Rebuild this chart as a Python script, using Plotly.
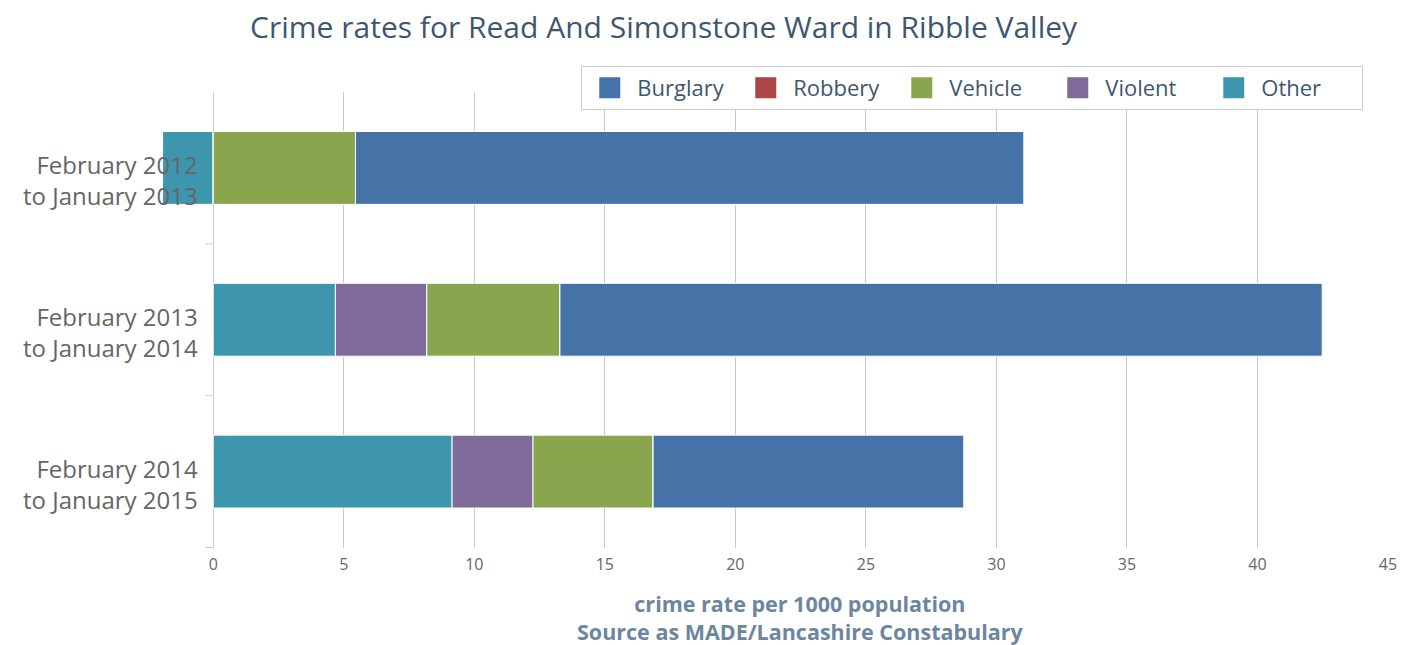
import plotly.graph_objects as go

categories = ["February 2012<br>to January 2013",
              "February 2013<br>to January 2014",
              "February 2014<br>to January 2015"]
series_names = ["Burglary", "Robbery", "Vehicle", "Violent", "Other"]
burglary = [25.6, 29.2, 11.9]
robbery = [0.0, 0.0, 0.0]
vehicle = [5.45, 5.1, 4.6]
violent = [0.0, 3.5, 3.1]
other = [-1.94, 4.68, 9.15]
colors = {"Burglary": "#4572A7", "Robbery": "#AA4643", "Vehicle": "#89A54E",
          "Violent": "#80699B", "Other": "#3D96AE"}
values = {"Burglary": burglary, "Robbery": robbery, "Vehicle": vehicle,
          "Violent": violent, "Other": other}
x_ticks = [0, 5, 10, 15, 20, 25, 30, 35, 40, 45]

FONT = "Open Sans"
X_MIN, X_MAX = -2, 45
fig = go.Figure()
# stacking order from zero: Other, Violent, Vehicle, Robbery, Burglary
for name in ["Other", "Violent", "Vehicle", "Robbery", "Burglary"]:
    fig.add_trace(go.Bar(
        y=categories, x=values[name], name=name, orientation="h",
        marker=dict(color=colors[name], line=dict(color="#FFFFFF", width=1)),
        showlegend=False, width=0.48,
    ))
# legend entries
for name in ["Other", "Violent", "Vehicle", "Robbery", "Burglary"]:
    fig.add_trace(go.Scatter(
        x=[None], y=[None], mode="markers", name=name,
        marker=dict(symbol="square", size=16, color=colors[name],
                    line=dict(color=colors[name], width=5)),
    ))

px_per_unit = (1394 - 213) / 45.0
left_margin = 213 - (0 - X_MIN) * px_per_unit
plot_w = 1409 - 15 - left_margin
tick_len = 8 / px_per_unit
shapes = [dict(type="line", xref="x", yref="y", x0=-tick_len, x1=0,
               y0=b, y1=b, line=dict(color="#C0D0E0", width=1))
          for b in [0.5, 1.5, 2.5]]

annotations = [dict(text=c, x=0, xref="x", y=c, yref="y", xanchor="right",
                    yanchor="middle", xshift=-13, yshift=-12, showarrow=False,
                    align="right", font=dict(size=24, color="#666666", family=FONT))
               for c in categories]
annotations.append(dict(
    text="<b>crime rate per 1000 population<br>Source as MADE/Lancashire Constabulary</b>",
    x=(803 - left_margin) / plot_w, xref="paper",
    y=(548 - 617) / 456.0, yref="paper", xanchor="center",
    yanchor="middle", showarrow=False, align="center",
    font=dict(size=21.5, color="#6D869F", family=FONT)))

fig.update_layout(
    width=1409, height=645,
    barmode="relative",
    paper_bgcolor="white", plot_bgcolor="white",
    margin=dict(l=left_margin, r=15, t=92, b=97),
    font=dict(family=FONT, color="#666666"),
    title=dict(text="Crime rates for Read And Simonstone Ward in Ribble Valley",
               x=0.471, xanchor="center", y=0.958, yanchor="middle",
               font=dict(size=30, color="#3E576F", family=FONT)),
    legend=dict(orientation="h", traceorder="reversed",
                x=(583 - left_margin) / plot_w,
                xanchor="left", y=1.057, yanchor="top",
                bordercolor="#CCCCCC", borderwidth=1, bgcolor="white",
                font=dict(size=22, color="#3E576F", family=FONT),
                itemwidth=45, entrywidth=96, entrywidthmode="pixels",
                itemclick=False),
    xaxis=dict(range=[X_MIN, X_MAX], tickvals=x_ticks, showgrid=True,
               gridcolor="#C8C8C8", gridwidth=1, zeroline=True,
               zerolinecolor="#C0D0E0", zerolinewidth=1,
               showline=False, ticks="", ticklabelstandoff=5,
               tickfont=dict(size=16, color="#666666"),
               fixedrange=True),
    yaxis=dict(type="category", autorange="reversed", showline=False,
               ticks="", showticklabels=False, showgrid=False,
               fixedrange=True),
    shapes=shapes,
    annotations=annotations,
)
fig.write_html("out.html")
